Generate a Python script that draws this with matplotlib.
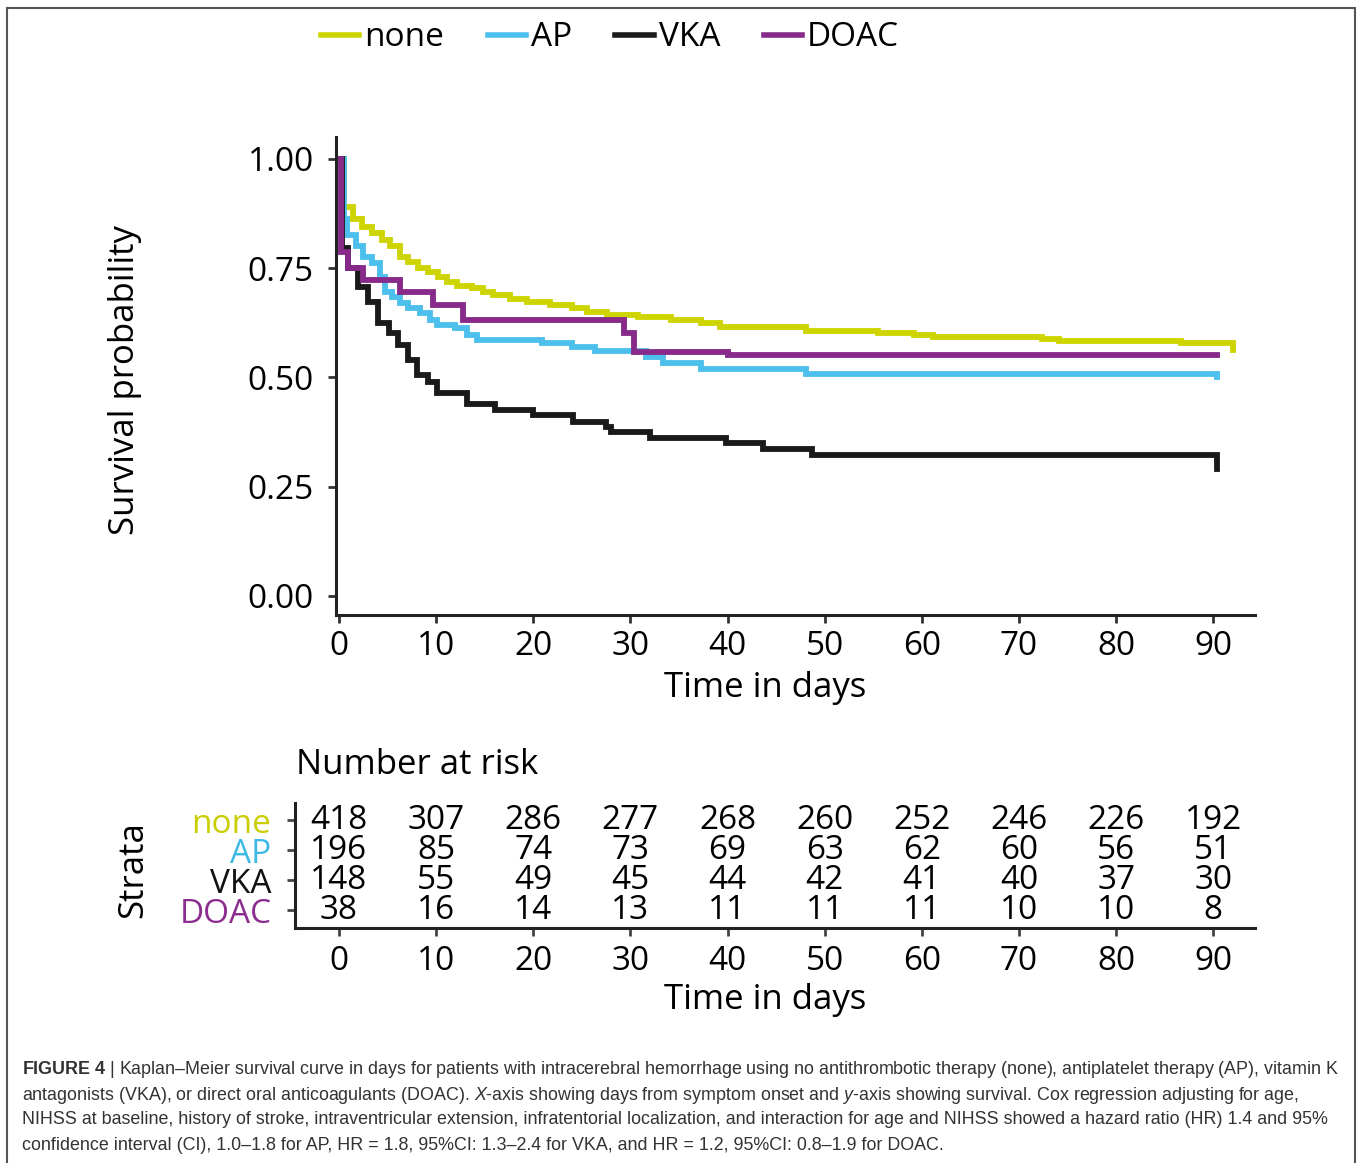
import matplotlib
matplotlib.use("Agg")
import matplotlib.pyplot as plt
from matplotlib.patches import Rectangle
from matplotlib.lines import Line2D

plt.rcParams['font.family'] = ['Open Sans', 'DejaVu Sans']
plt.rcParams['mathtext.fontset'] = 'custom'
plt.rcParams['mathtext.rm'] = 'Liberation Sans'
plt.rcParams['mathtext.it'] = 'Liberation Sans:italic'
plt.rcParams['mathtext.bf'] = 'Liberation Sans:bold'

# Kaplan-Meier curves
none_t = [0, 0.5, 1.4, 2.4, 3.4, 4.4, 5.2, 6.3, 7.1, 8.1, 9.2, 10.2, 11.1, 12.1, 13.7, 14.8,
          15.9, 17.6, 19.4, 21.7, 24.0, 25.5, 27.6, 30.8, 34.2, 37.3, 39.2, 48.1, 55.5, 59.2,
          61.1, 72.4, 74.1, 86.7, 92.0]
none_s = [1.0, 0.890, 0.863, 0.845, 0.830, 0.815, 0.800, 0.776, 0.765, 0.750, 0.742, 0.730,
          0.718, 0.710, 0.705, 0.696, 0.689, 0.680, 0.673, 0.666, 0.659, 0.650, 0.643, 0.638,
          0.632, 0.625, 0.616, 0.606, 0.602, 0.597, 0.593, 0.588, 0.584, 0.579, 0.563]

ap_t = [0, 0.5, 0.8, 1.7, 2.5, 3.4, 4.2, 4.7, 5.5, 6.3, 7.1, 8.3, 9.4, 10.1, 11.9, 13.2, 14.2,
        20.9, 24.0, 26.4, 31.6, 33.4, 37.3, 48.1, 90.4]
ap_s = [1.0, 0.862, 0.826, 0.800, 0.776, 0.762, 0.730, 0.696, 0.684, 0.670, 0.659, 0.647,
        0.632, 0.620, 0.613, 0.597, 0.586, 0.579, 0.570, 0.561, 0.547, 0.533, 0.520, 0.508, 0.500]

vka_t = [0, 0.3, 0.9, 2.0, 3.0, 4.0, 5.1, 6.1, 7.1, 8.0, 9.2, 10.1, 13.2, 16.1, 20.0, 24.1,
         27.5, 28.0, 32.0, 39.8, 43.7, 48.7, 90.4]
vka_s = [1.0, 0.795, 0.750, 0.707, 0.673, 0.625, 0.602, 0.574, 0.540, 0.506, 0.490, 0.465,
         0.440, 0.426, 0.414, 0.398, 0.387, 0.375, 0.362, 0.350, 0.337, 0.322, 0.290]

doac_t = [0, 0.2, 0.9, 2.5, 6.3, 9.7, 12.8, 29.3, 30.4, 40.0, 90.4]
doac_s = [1.0, 0.787, 0.750, 0.723, 0.696, 0.666, 0.632, 0.602, 0.558, 0.551, 0.551]

strata = ['none', 'AP', 'VKA', 'DOAC']
colors = ['#CDD400', '#4DBFEC', '#1A1A1A', '#872A8A']
label_colors = ['#C9CE00', '#3DB9E6', '#111111', '#8B2D8E']

# Number at risk
risk_times = [0, 10, 20, 30, 40, 50, 60, 70, 80, 90]
risk_none = [418, 307, 286, 277, 268, 260, 252, 246, 226, 192]
risk_ap = [196, 85, 74, 73, 69, 63, 62, 60, 56, 51]
risk_vka = [148, 55, 49, 45, 44, 42, 41, 40, 37, 30]
risk_doac = [38, 16, 14, 13, 11, 11, 11, 10, 10, 8]

caption = [
    r"$\mathbf{FIGURE\ 4}$ | Kaplan–Meier survival curve in days for patients with intracerebral hemorrhage using no antithrombotic therapy (none), antiplatelet therapy (AP), vitamin K",
    r"antagonists (VKA), or direct oral anticoagulants (DOAC). $X$-axis showing days from symptom onset and $y$-axis showing survival. Cox regression adjusting for age,",
    "NIHSS at baseline, history of stroke, intraventricular extension, infratentorial localization, and interaction for age and NIHSS showed a hazard ratio (HR) 1.4 and 95%",
    "confidence interval (CI), 1.0–1.8 for AP, HR = 1.8, 95%CI: 1.3–2.4 for VKA, and HR = 1.2, 95%CI: 0.8–1.9 for DOAC.",
]

W, H = 1358, 1163
fig = plt.figure(figsize=(W / 100, H / 100), dpi=100)
fig.patch.set_facecolor('white')

fs = 24
spine_c = '#222222'

# ---- main survival plot ----
ax = fig.add_axes([336 / W, 1 - 615 / H, 919 / W, 478 / H])
curves = [(none_t, none_s), (ap_t, ap_s), (vka_t, vka_s), (doac_t, doac_s)]
for (t, s), c in zip(curves, colors):
    ax.step(t, s, where='post', color=c, lw=4.2, solid_joinstyle='miter')
ax.set_xlim(-0.31, 94.3)
ax.set_ylim(-0.0435, 1.050)
ax.set_xticks(range(0, 91, 10))
ax.set_yticks([0, 0.25, 0.5, 0.75, 1.0])
ax.set_yticklabels(['0.00', '0.25', '0.50', '0.75', '1.00'])
for sp in ['top', 'right']:
    ax.spines[sp].set_visible(False)
for sp in ['left', 'bottom']:
    ax.spines[sp].set_linewidth(2.2)
    ax.spines[sp].set_color(spine_c)
ax.tick_params(axis='both', labelsize=fs, length=6, width=2, color='#333333')
ax.tick_params(axis='y', pad=10)
ax.tick_params(axis='x', pad=5)
ax.set_xlabel('Time in days', fontsize=fs + 1, va='center')
ax.xaxis.set_label_coords((765 - 336) / 919, (615 - 688) / 478)
ax.set_ylabel('Survival probability', fontsize=fs + 1, va='center', ha='center')
ax.yaxis.set_label_coords((125 - 336) / 919, (615 - 380) / 478)

# legend at top
handles = [Line2D([0], [0], color=c, lw=4) for c in colors]
fig.legend(handles, strata, loc='center', bbox_to_anchor=(610 / W, 1 - 38 / H), ncol=4,
           frameon=False, fontsize=fs, handlelength=1.15, handletextpad=0.15,
           columnspacing=1.3)

# ---- risk table ----
tab = fig.add_axes([295 / W, 1 - 928 / H, 960 / W, 125 / H])
tab.set_xlim(-4.53, 94.3)
tab.set_ylim(-0.6, 3.567)
risk_rows = [risk_none, risk_ap, risk_vka, risk_doac]
for i, row in enumerate(risk_rows):
    yy = 3 - i
    for t, n in zip(risk_times, row):
        tab.text(t, yy, str(n), ha='center', va='center', fontsize=fs)
tab.set_xticks(risk_times)
tab.set_yticks([3, 2, 1, 0])
tab.set_yticklabels(strata)
for lbl, c in zip(tab.get_yticklabels(), label_colors):
    lbl.set_color(c)
for sp in ['top', 'right']:
    tab.spines[sp].set_visible(False)
for sp in ['left', 'bottom']:
    tab.spines[sp].set_linewidth(2.2)
    tab.spines[sp].set_color(spine_c)
tab.tick_params(axis='both', labelsize=fs, length=6, width=2, color='#444444')
tab.tick_params(axis='y', pad=11)
tab.tick_params(axis='x', pad=6)
tab.set_xlabel('Time in days', fontsize=fs + 1, va='center')
tab.xaxis.set_label_coords((765 - 295) / 960, (928 - 1000) / 125)
tab.set_ylabel('Strata', fontsize=fs + 1, va='center', ha='center')
tab.yaxis.set_label_coords((133 - 295) / 960, (928 - 870) / 125)
fig.text(296 / W, 1 - 765 / H, 'Number at risk', fontsize=fs + 1, ha='left', va='center')

# ---- caption ----
for k, line in enumerate(caption):
    fig.text(22 / W, 1 - (1070 + 25 * k) / H, line, fontsize=12.85, ha='left', va='center',
             color='#333333', family='Liberation Sans')

# frame around the figure
fig.patches.append(Rectangle((7 / W, -0.01), (1355 - 7) / W, 1 - 8 / H + 0.01,
                             transform=fig.transFigure, fill=False,
                             edgecolor='#555555', lw=1.5))

fig.savefig('out.png', dpi=100, facecolor='white')
